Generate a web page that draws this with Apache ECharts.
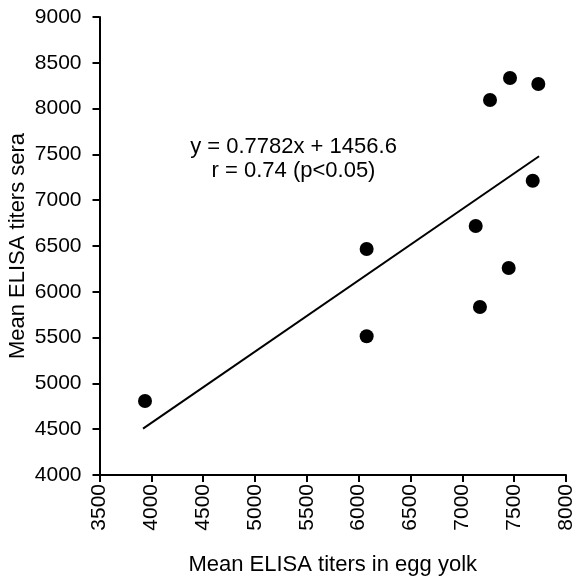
<!DOCTYPE html>
<html><head><meta charset="utf-8">
<script src="https://cdn.jsdelivr.net/npm/echarts@6/dist/echarts.min.js"></script>
<style>html,body{margin:0;padding:0;background:#fff}#c{width:576px;height:577px}</style>
</head><body><div id="c"></div>
<script>
const eggYolk = [3939, 6077, 6077, 7129, 7170, 7447, 7267, 7460, 7733, 7679];
const sera    = [4808, 6467, 5514, 6718, 5834, 6260, 8094, 8334, 8268, 7213];
const trendX = [3920, 7740];
const trendY = [4507, 7480];
const equationText = ['y = 0.7782x + 1456.6', 'r = 0.74 (p<0.05)'];
const xTitle = 'Mean ELISA titers in egg yolk';
const yTitle = 'Mean ELISA titers sera';

const font = 'Liberation Sans, Arial, sans-serif';
const chart = echarts.init(document.getElementById('c'));
chart.setOption({
  animation: false,
  grid: {left: 99.5, right: 10, top: 17, bottom: 102, outerBoundsMode: 'none', containLabel: false},
  xAxis: {
    type: 'value', min: 3500, max: 8000, interval: 500,
    name: xTitle, nameLocation: 'middle', nameGap: 79, nameMoveOverlap: false,
    nameTextStyle: {color: '#000', fontSize: 22, fontFamily: font},
    axisLine: {show: true, onZero: false, lineStyle: {color: '#000', width: 2}},
    axisTick: {show: true, length: 7, lineStyle: {color: '#000', width: 2}},
    axisLabel: {rotate: 90, margin: 9, color: '#000', fontSize: 21, fontFamily: font,
      formatter: v => String(v)},
    splitLine: {show: false}
  },
  yAxis: {
    type: 'value', min: 4000, max: 9000, interval: 500,
    name: yTitle, nameLocation: 'middle', nameGap: 71, nameRotate: 90, nameMoveOverlap: false,
    nameTextStyle: {color: '#000', fontSize: 22, fontFamily: font},
    axisLine: {show: true, onZero: false, lineStyle: {color: '#000', width: 2}},
    axisTick: {show: true, length: 7, lineStyle: {color: '#000', width: 2}},
    axisLabel: {margin: 18, color: '#000', fontSize: 21, fontFamily: font,
      formatter: v => String(v)},
    splitLine: {show: false}
  },
  series: [
    {
      type: 'scatter', symbol: 'circle', symbolSize: 14,
      itemStyle: {color: '#000', opacity: 1},
      data: eggYolk.map((x, i) => [x, sera[i]]), z: 3
    },
    {
      type: 'line', symbol: 'none', silent: true,
      lineStyle: {color: '#000', width: 2},
      data: trendX.map((x, i) => [x, trendY[i]])
    }
  ],
  graphic: [{
    type: 'text', x: 293.5, y: 135,
    style: {text: equationText.join('\n'), fill: '#000', font: '22px ' + font, align: 'center', verticalAlign: 'top', lineHeight: 24}
  }]
});
</script></body></html>
